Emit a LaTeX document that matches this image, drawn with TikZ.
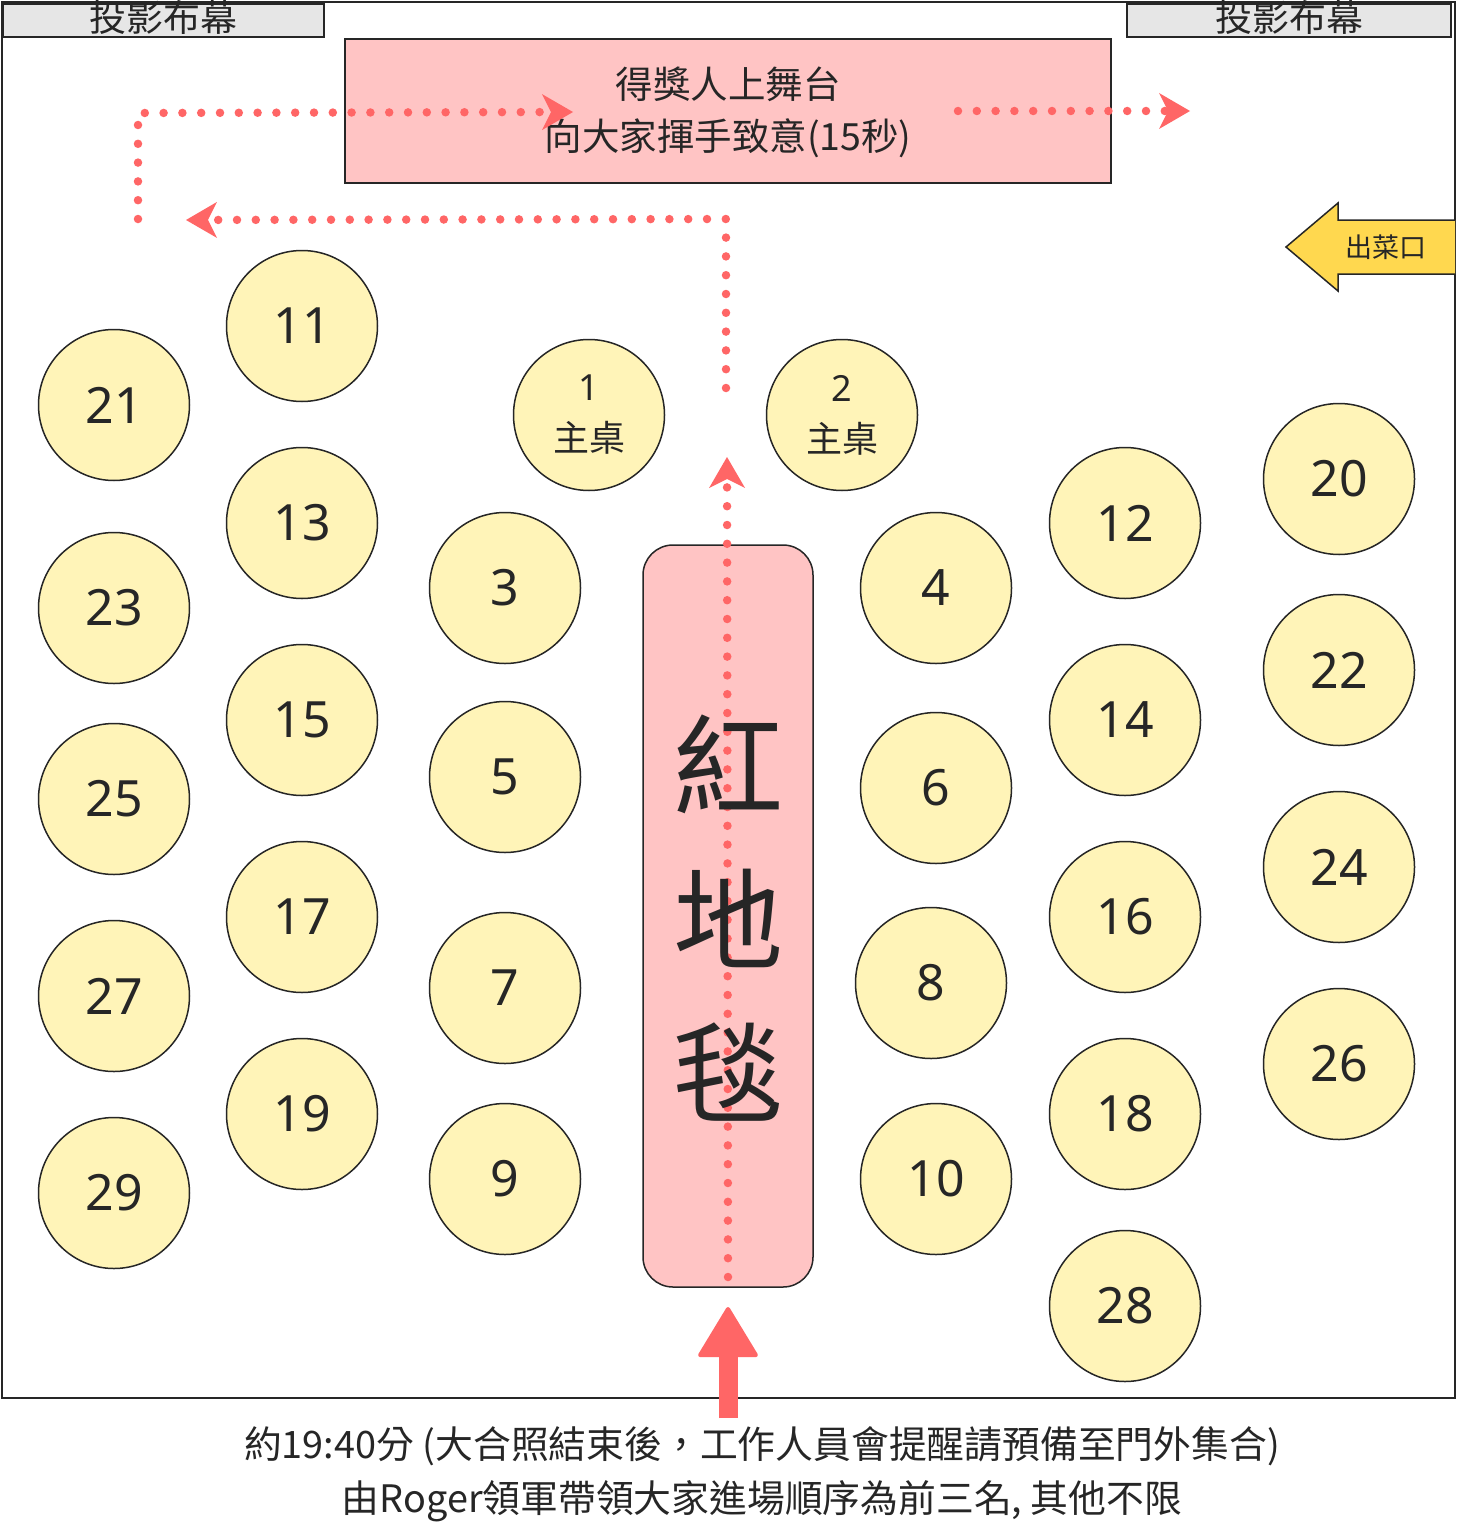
\documentclass[tikz,border=0pt]{standalone}
\usepackage{fontspec}
\setmainfont{Noto Sans CJK TC}
\newfontfamily\numfont{Noto Sans}
\usetikzlibrary{arrows.meta}

\definecolor{carpetpink}{HTML}{FFC4C4}
\definecolor{tableyellow}{HTML}{FFF4B8}
\definecolor{walkred}{HTML}{FF6666}
\definecolor{exityellow}{HTML}{FFD84F}
\definecolor{screengray}{HTML}{E6E6E6}
\definecolor{inkdark}{HTML}{262626}

\begin{document}
\begin{tikzpicture}[x=1pt, y=-1pt,
	roundtable/.style={circle, draw=inkdark, line width=1.5pt, fill=tableyellow, minimum size=151pt, inner sep=0pt, font=\numfont\fontsize{50}{50}\selectfont},
	headtable/.style={roundtable, align=center, font=\fontsize{36}{51}\selectfont},
	screenbox/.style={draw=inkdark, line width=1.5pt, fill=screengray},
	walk/.style={draw=walkred, line width=8.5pt, line cap=round, dash pattern=on 0pt off 18.8pt},
	walkhead/.style={-{Stealth[length=31pt, width=36pt, inset=9pt, fill=walkred, line width=0pt]}},
	every node/.style={text=inkdark}]
	\useasboundingbox (0,0) rectangle (1457,1536);
	\fill[white] (0,0) rectangle (1457,1536);
	% room
	\draw[inkdark, line width=2.5pt] (2,1398) -- (2,2) -- (1455,2) -- (1455,1398) -- cycle;
	\draw[screenbox] (3,4) rectangle (324,37);
	\draw[screenbox] (1127,4) rectangle (1451,37);
	\node[font=\fontsize{37}{37}\selectfont] (screenL) at (163,17) {投影布幕};
	\node[font=\fontsize{37}{37}\selectfont] (screenR) at (1289,17) {投影布幕};
	% stage and carpet
	\draw[fill=carpetpink, draw=inkdark, line width=1.5pt] (345,39) rectangle (1111,183);
	\node[align=center, font=\fontsize{37.5}{52}\selectfont] (stage) at (728,112) {得獎人上舞台\\向大家揮手致意(15秒)};
	\draw[fill=carpetpink, draw=inkdark, line width=1.5pt, rounded corners=30pt] (643,545) rectangle (813,1287);
	% exit
	\draw[fill=exityellow, draw=inkdark, line width=1.5pt] (1455,220) -- (1338,220) -- (1338,203) -- (1286,247) -- (1338,291) -- (1338,274) -- (1455,274);
	\node[font=\fontsize{27}{27}\selectfont] (exit) at (1386,247) {出菜口};
	% tables
	\foreach \n/\x/\y in {11/302/326, 21/114/405, 13/302/523, 23/114/608, 15/302/720, 25/114/799, 17/302/917, 27/114/996, 19/302/1114, 29/114/1193, 3/505/588, 5/505/777, 7/505/988, 9/505/1179, 4/936/588, 6/936/788, 8/931/983, 10/936/1179, 12/1125/523, 14/1125/720, 16/1125/917, 18/1125/1114, 28/1125/1306, 20/1339/479, 22/1339/670, 24/1339/867, 26/1339/1064}
		\node[roundtable] (t\n) at (\x,\y) {\n};
	\node[headtable] (t1) at (589,415) {{\numfont 1}\\主桌};
	\node[headtable] (t2) at (842,415) {{\numfont 2}\\主桌};
	% walking route
	\coordinate (c1) at (728,1277);
	\coordinate (c2) at (727,457);
	\coordinate (c3) at (726,388);
	\coordinate (c4) at (726,219);
	\coordinate (c5) at (186,220);
	\coordinate (c6) at (138,219);
	\coordinate (c7) at (138,113);
	\coordinate (c8) at (573,112);
	\coordinate (c9) at (958,111);
	\coordinate (c10) at (1190,111);
	\draw[walk, walkhead] (c1) -- (c2);
	\draw[walk, walkhead] (c3) -- (c4) -- (c5);
	\draw[walk, walkhead] (c6) -- (c7) -- (c8);
	\draw[walk, walkhead] (c9) -- (c10);
	\node[font=\fontsize{110}{110}\selectfont] (hong) at (728,764) {紅};
	\node[font=\fontsize{110}{110}\selectfont] (di) at (728,918) {地};
	\node[font=\fontsize{110}{110}\selectfont] (tan) at (728,1072) {毯};
	% entrance
	\coordinate (door) at (728,1418);
	\coordinate (doortip) at (728,1307);
	\draw[walkred, line width=19pt, -{Triangle[length=52pt 0, width=62pt 0, line width=4pt, round]}] (door) -- (doortip);
	\node[align=center, font=\fontsize{37.8}{54}\selectfont] (note) at (762,1474) {約19:40分 (大合照結束後，工作人員會提醒請預備至門外集合)\\由Roger領軍帶領大家進場順序為前三名, 其他不限};
\end{tikzpicture}
\end{document}
